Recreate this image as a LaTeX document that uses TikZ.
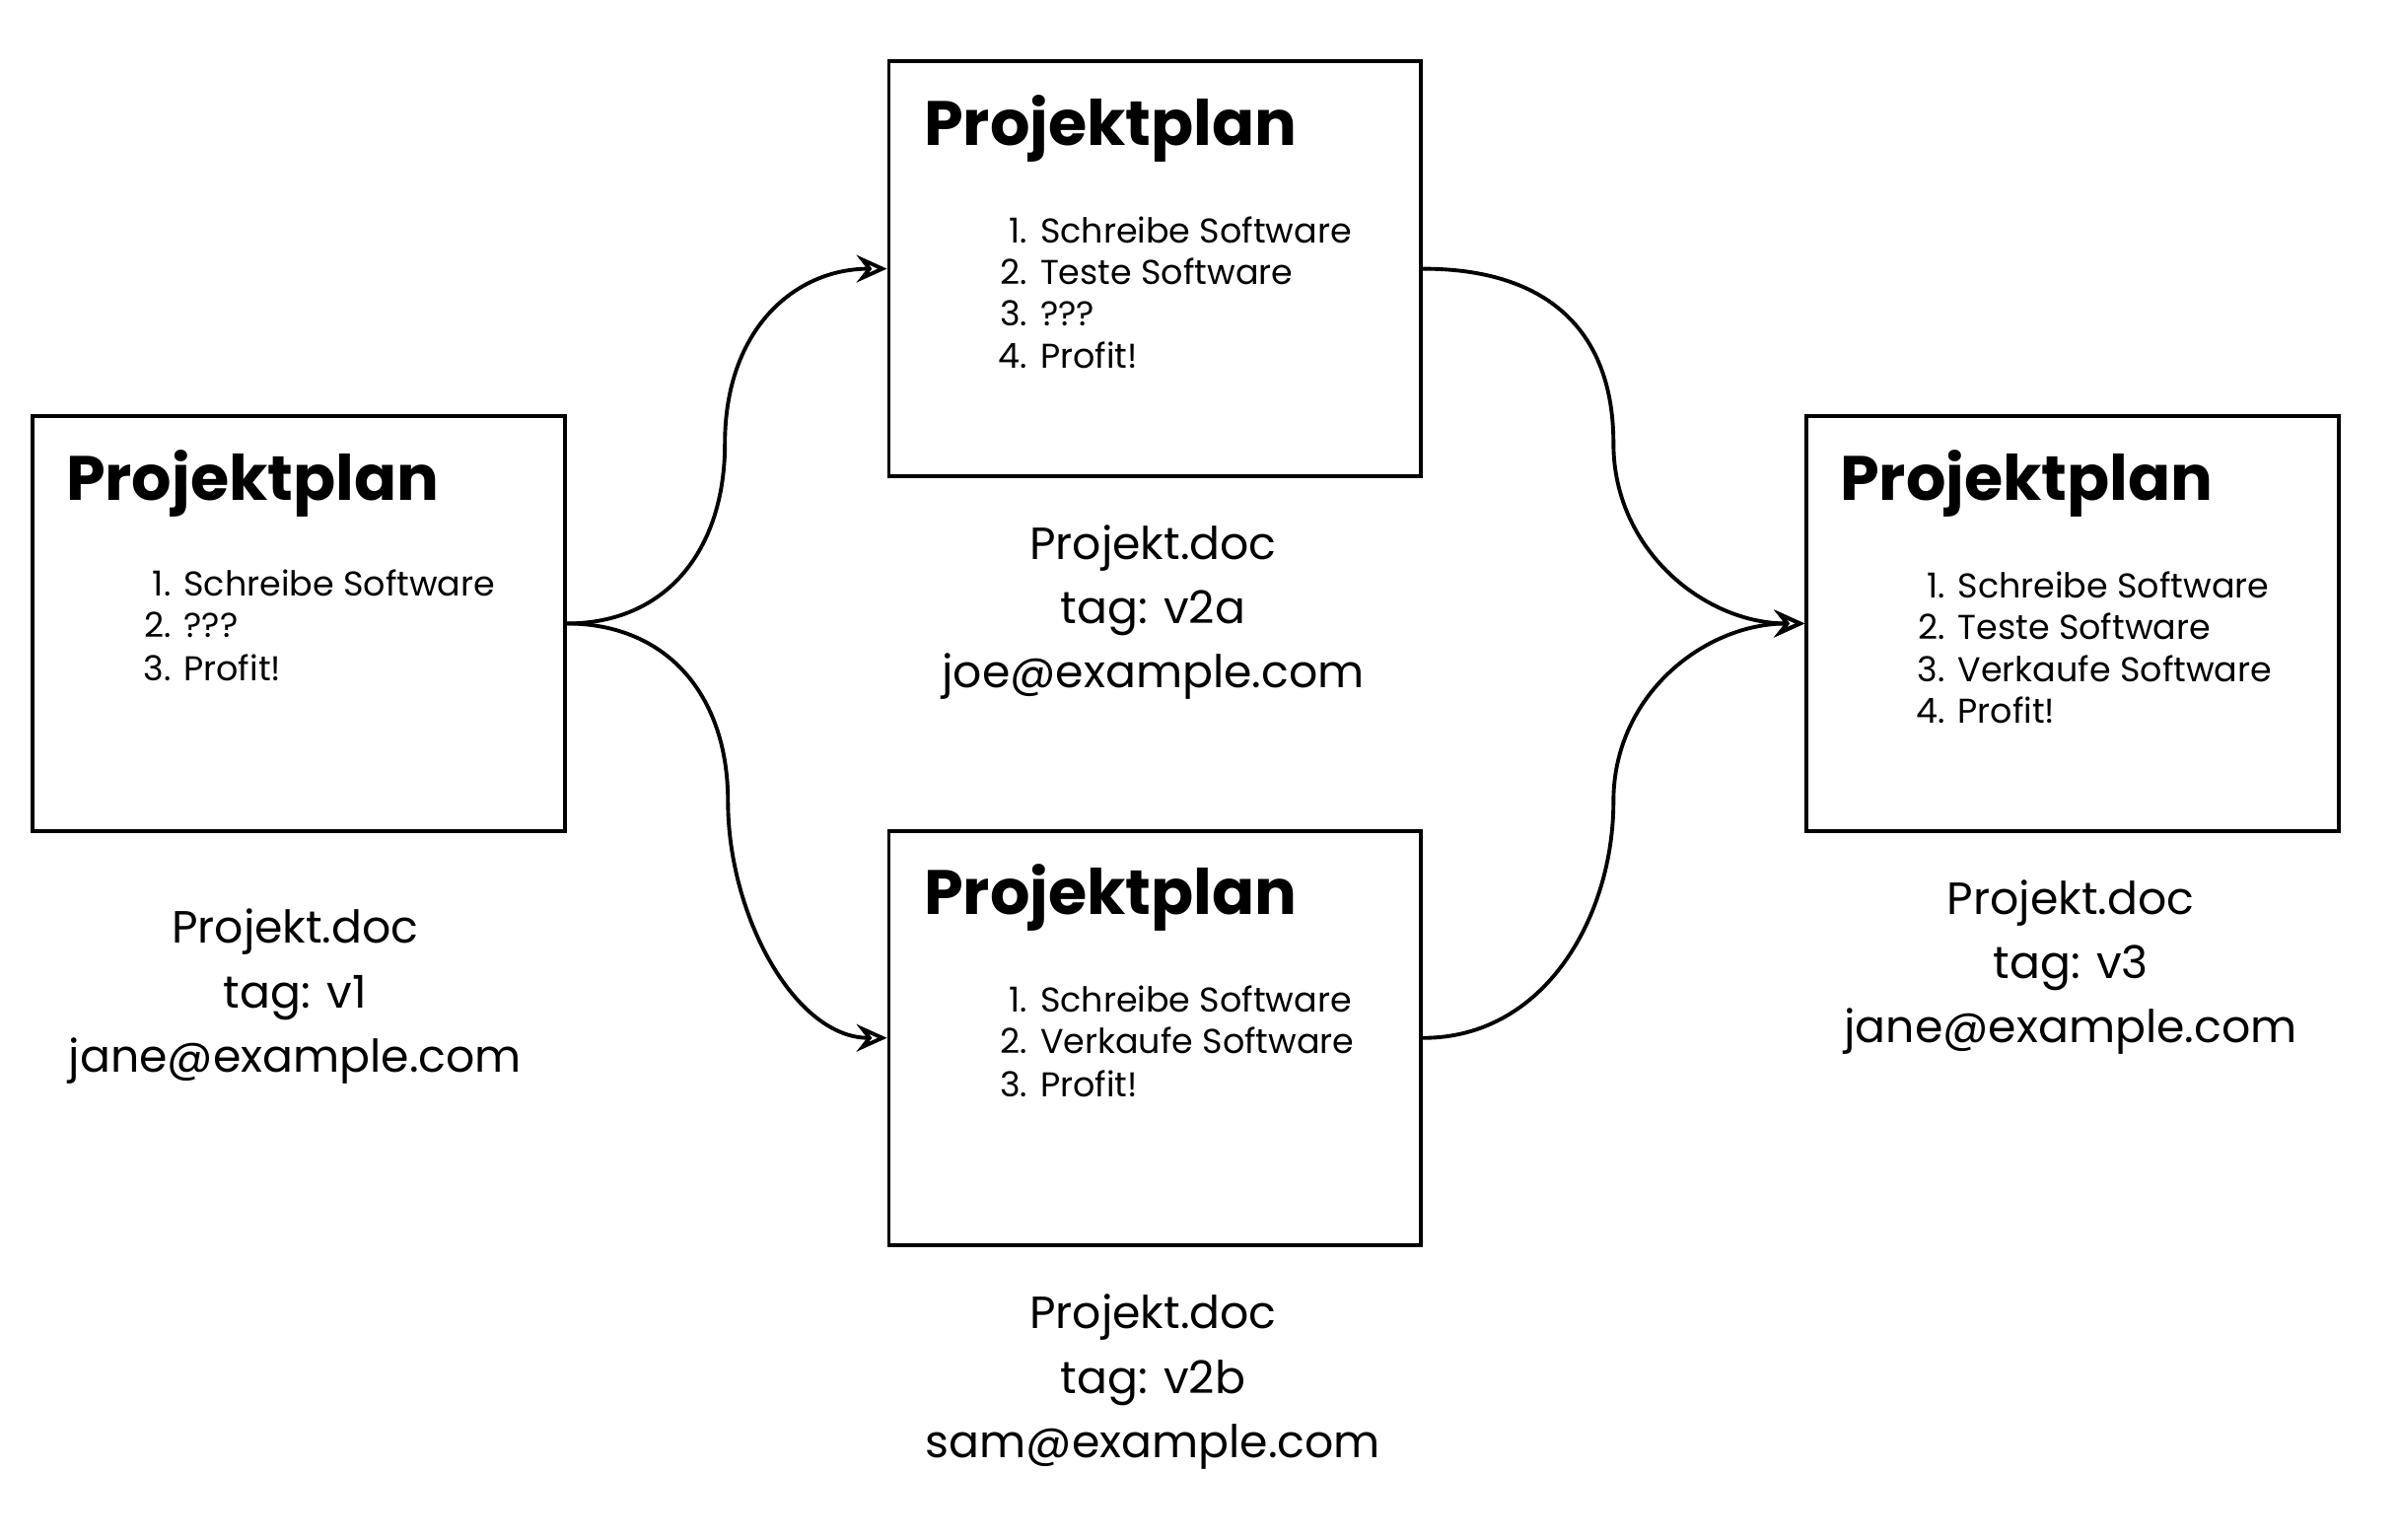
\documentclass[tikz,border=0pt]{standalone}
\usepackage{fontspec}
\setmainfont{Poppins}
\usetikzlibrary{arrows.meta}
\tikzset{
  docbox/.style={draw=black, line width=2.5pt, minimum width=348pt, minimum height=271pt, inner sep=0pt, anchor=north west},
  titletext/.style={anchor=base west, inner sep=0pt, font=\fontsize{41pt}{43pt}\selectfont\bfseries},
  numtext/.style={anchor=base east, inner sep=0pt, font=\fontsize{22.5pt}{24pt}\selectfont},
  itemtext/.style={anchor=base west, inner sep=0pt, font=\fontsize{22.5pt}{24pt}\selectfont},
  labeltext/.style={anchor=base, inner sep=0pt, align=center, font=\fontsize{29.5pt}{42pt}\selectfont},
  conn/.style={draw=black, line width=2.5pt, line cap=round, -{Stealth[open, length=20pt, width=18pt, inset=7pt]}},
}
\newcommand{\listline}[5]{%
  \node[numtext] (#1n) at (#2-8,#3) {#4};
  \node[itemtext] (#1t) at (#2,#3) {#5};}
\begin{document}
\begin{tikzpicture}[x=1pt,y=-1pt]
\useasboundingbox (0,0) rectangle (1568,1007);
% boxes
\node[docbox] (v1) at (20,271) {};
\node[docbox] (v2a) at (580,39) {};
\node[docbox] (v2b) at (580,542) {};
\node[docbox] (v3) at (1180,271) {};
% titles
\node[titletext] (t1) at (43,327) {Projektplan};
\node[titletext] (t2a) at (604,95) {Projektplan};
\node[titletext] (t2b) at (604,598) {Projektplan};
\node[titletext] (t3) at (1203,327) {Projektplan};
% lists
\listline{a1}{120}{390}{1.}{Schreibe Software}
\listline{a2}{120}{417}{2.}{???}
\listline{a3}{120}{445}{3.}{Profit!}
\listline{b1}{680}{159}{1.}{Schreibe Software}
\listline{b2}{680}{186}{2.}{Teste Software}
\listline{b3}{680}{213}{3.}{???}
\listline{b4}{680}{241}{4.}{Profit!}
\listline{c1}{680}{662}{1.}{Schreibe Software}
\listline{c2}{680}{689}{2.}{Verkaufe Software}
\listline{c3}{680}{717}{3.}{Profit!}
\listline{d1}{1280}{391}{1.}{Schreibe Software}
\listline{d2}{1280}{418}{2.}{Teste Software}
\listline{d3}{1280}{446}{3.}{Verkaufe Software}
\listline{d4}{1280}{473}{4.}{Profit!}
% labels (anchor = baseline of last line)
\node[labeltext] (l1) at (193,701) {Projekt.doc\\tag: v1\\jane@example.com};
\node[labeltext] (l2a) at (754,450) {Projekt.doc\\tag: v2a\\joe@example.com};
\node[labeltext] (l2b) at (754,953) {Projekt.doc\\tag: v2b\\sam@example.com};
\node[labeltext] (l3) at (1354,682) {Projekt.doc\\tag: v3\\jane@example.com};
% connector waypoints
\coordinate (m1) at (474,290);
\coordinate (m2) at (476,524);
\coordinate (m3) at (1055,290);
\coordinate (m4) at (1055,524);
% connectors
\draw[conn] (v1.east) .. controls +(65,0) and +(0,70) .. (m1) .. controls +(0,-75) and +(-60,0) .. (v2a.west);
\draw[conn] (v1.east) .. controls +(65,0) and +(0,-70) .. (m2) .. controls +(0,75) and +(-60,0) .. (v2b.west);
\draw[conn] (v2a.east) .. controls +(80,0) and +(0,-75) .. (m3) .. controls +(0,70) and +(-65,0) .. (v3.west);
\draw[conn] (v2b.east) .. controls +(80,0) and +(0,75) .. (m4) .. controls +(0,-70) and +(-65,0) .. (v3.west);
\end{tikzpicture}
\end{document}
